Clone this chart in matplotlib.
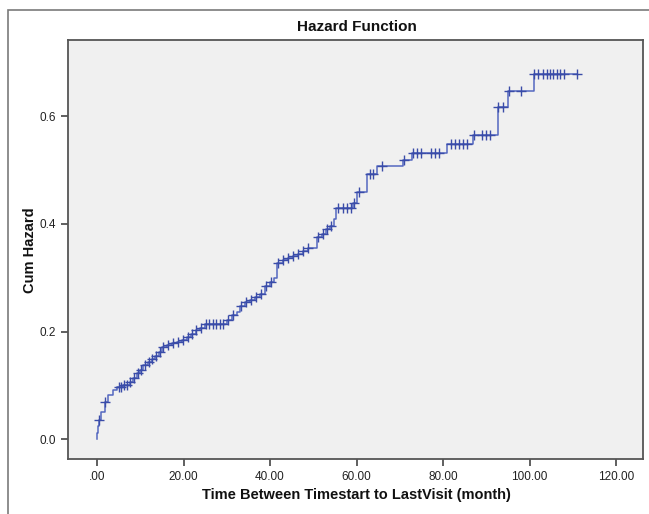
import numpy as np
import matplotlib
matplotlib.use("Agg")
import matplotlib.pyplot as plt
from matplotlib.patches import Rectangle

# ---- data ----
step_times = [0.1, 0.2, 0.35, 1.0, 1.8, 2.6, 3.8, 4.6, 6.0, 7.6, 8.3, 9.2, 10.0, 10.7,
              11.8, 12.6, 13.4, 14.3, 15.0, 16.2, 17.3, 18.5, 19.7, 20.8, 21.8, 22.8,
              23.8, 25.0, 30.0, 31.2, 32.4, 33.0, 34.2, 35.4, 36.5, 37.6, 38.8, 40.0,
              40.8, 41.6, 43.0, 44.2, 45.3, 46.5, 47.6, 48.8, 50.9, 52.0, 53.0, 53.9,
              54.8, 55.2, 59.2, 60.2, 62.4, 64.7, 70.8, 72.8, 81.0, 87.0, 92.6, 95.0,
              101.0]
step_hazard = [0.012, 0.024, 0.036, 0.05, 0.069, 0.082, 0.091, 0.097, 0.101, 0.106,
               0.113, 0.123, 0.128, 0.138, 0.143, 0.148, 0.155, 0.162, 0.171, 0.175,
               0.178, 0.181, 0.185, 0.19, 0.195, 0.202, 0.207, 0.214, 0.221, 0.23,
               0.237, 0.248, 0.254, 0.258, 0.265, 0.27, 0.284, 0.292, 0.300, 0.327,
               0.333, 0.337, 0.340, 0.344, 0.349, 0.355, 0.375, 0.381, 0.390, 0.397,
               0.41, 0.43, 0.439, 0.46, 0.493, 0.507, 0.518, 0.531, 0.548, 0.566,
               0.617, 0.647, 0.678]
censor_times = [0.35, 1.8, 5.0, 5.6, 6.3, 7.0, 7.6, 8.5, 9.4, 10.2, 11.0, 12.0, 12.8,
                13.6, 14.5, 15.2, 16.4, 17.5, 18.7, 19.9, 21.0, 22.0, 23.0, 24.0, 25.2,
                26.0, 26.8, 27.6, 28.4, 29.2, 30.2, 31.4, 33.2, 34.4, 35.6, 36.7, 37.8,
                39.0, 40.2, 41.8, 43.0, 44.2, 45.3, 46.5, 47.6, 48.8, 51.1, 52.2, 53.2,
                54.0, 55.7, 56.9, 57.8, 58.7, 59.5, 60.6, 63.0, 63.8, 65.8, 71.0, 73.1,
                74.0, 75.0, 77.2, 78.2, 79.0, 81.8, 82.8, 83.7, 84.6, 85.5, 87.2, 89.0,
                90.0, 90.9, 92.8, 93.8, 95.2, 98.0, 101.0, 102.0, 103.0, 104.0, 104.8,
                105.5, 106.3, 107.0, 108.0, 111.0]
x_ticks = [0, 20, 40, 60, 80, 100, 120]
x_tick_labels = [".00", "20.00", "40.00", "60.00", "80.00", "100.00", "120.00"]
y_ticks = [0.0, 0.2, 0.4, 0.6]
y_tick_labels = ["0.0", "0.2", "0.4", "0.6"]
title = "Hazard Function"
x_label = "Time Between Timestart to LastVisit (month)"
y_label = "Cum Hazard"

plt.rcParams['font.family'] = ['Liberation Sans', 'DejaVu Sans']

fig = plt.figure(figsize=(6.49, 5.14), dpi=100)
W, H = 649, 514
ax = fig.add_axes([68 / W, 1 - 459 / H, (643 - 68) / W, (459 - 40) / H])
ax.set_facecolor('#f0f0f0')

# outer frame of the chart
fig.patches.append(Rectangle((8 / W, -0.05), 1.1, 1 - 10 / H + 0.05,
                             transform=fig.transFigure, fill=False,
                             edgecolor='#7a7a7a', linewidth=1.2))

line_color = '#5467c0'
t = np.concatenate([[0.0], step_times, [max(censor_times)]])
h = np.concatenate([[0.0], step_hazard, [step_hazard[-1]]])
ax.step(t, h, where='post', color=line_color, linewidth=1.1)

st = np.array(step_times)
sh = np.concatenate([[0.0], step_hazard])
ct = np.array(censor_times)
idx = np.searchsorted(st, ct, side='right')
ax.plot(ct, sh[idx], linestyle='none', marker='+', markersize=7,
        markeredgewidth=1.0, color='#3a4ca8')

ax.set_xlim(-6.7, 126.2)
ax.set_ylim(-0.037, 0.742)
ax.set_xticks(x_ticks)
ax.set_xticklabels(x_tick_labels)
ax.set_yticks(y_ticks)
ax.set_yticklabels(y_tick_labels)
ax.tick_params(direction='out', length=5, width=1.2, color='#444444',
               labelsize=8.5, labelcolor='#222222')
for s in ax.spines.values():
    s.set_color('#555555')
    s.set_linewidth(1.3)

fig.text((68 + 645) / 2 / W, 1 - 27 / H, title, ha='center', va='center',
         fontsize=11, fontweight='bold', color='#111111')
fig.text((68 + 645) / 2 / W, 1 - 495 / H, x_label, ha='center', va='center',
         fontsize=10.5, fontweight='bold', color='#111111')
fig.text(30 / W, 1 - 250 / H, y_label, ha='center', va='center', rotation=90,
         fontsize=10.5, fontweight='bold', color='#111111')

fig.savefig('out.png', dpi=100)
